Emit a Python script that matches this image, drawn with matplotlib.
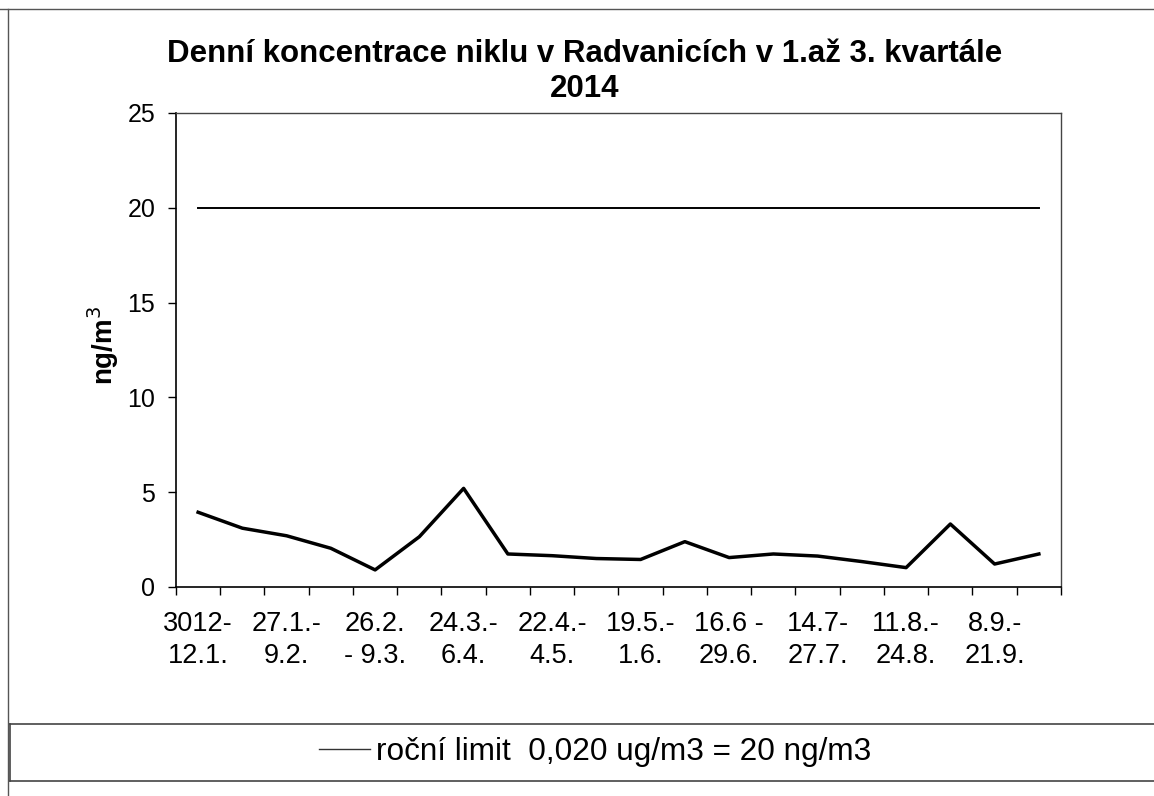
import numpy as np
import matplotlib
matplotlib.use("Agg")
import matplotlib.pyplot as plt
from matplotlib.lines import Line2D

plt.rcParams['font.family'] = ['Liberation Sans', 'DejaVu Sans']

# two-week periods, Jan - Sep 2014
periods = ["3012-\n12.1.", "", "27.1.-\n9.2.", "", "26.2.\n- 9.3.", "",
           "24.3.-\n6.4.", "", "22.4.-\n4.5.", "", "19.5.-\n1.6.", "",
           "16.6 -\n29.6.", "", "14.7-\n27.7.", "", "11.8.-\n24.8.", "",
           "8.9.-\n21.9.", ""]
nickel = [3.94, 3.1, 2.7, 2.04, 0.9, 2.65, 5.2, 1.74, 1.65, 1.5,
          1.45, 2.39, 1.55, 1.74, 1.63, 1.34, 1.02, 3.32, 1.21, 1.74]
limit = [20] * 20
limit_label = "roční limit  0,020 ug/m3 = 20 ng/m3"

fig = plt.figure(figsize=(11.54, 7.96), dpi=100)
ax = fig.add_axes([0.1525, 0.2626, 0.7669, 0.5955])

x = np.arange(len(nickel))
lim_line, = ax.plot(x, limit, color="black", lw=1.4)
ax.plot(x, nickel, color="black", lw=2.5)

ax.set_xlim(-0.5, len(nickel) - 0.5)
ax.set_ylim(0, 25)
ax.set_yticks([0, 5, 10, 15, 20, 25])
ax.set_xticks(x, periods)
ax.set_xticks(np.arange(-0.5, len(nickel)), minor=True)
for lab in ax.get_xticklabels():
    lab.set_linespacing(1.3)
ax.tick_params(axis="x", which="major", length=0, pad=17, labelsize=19.5)
ax.tick_params(axis="x", which="minor", length=6, width=1, direction="out")
ax.tick_params(axis="y", length=6, width=1, direction="out", labelsize=18, pad=9)
ax.set_ylabel("ng/m$^3$", fontsize=20, fontweight="bold")
ax.yaxis.set_label_coords(-0.062, 0.51)

for s in ["top", "right"]:
    ax.spines[s].set_color("#444444")
    ax.spines[s].set_linewidth(1.0)
for s in ["left", "bottom"]:
    ax.spines[s].set_linewidth(1.2)

fig.text(0.507, 0.91, "Denní koncentrace niklu v Radvanicích v 1.až 3. kvartále\n2014",
         ha="center", va="center", fontsize=22.5, fontweight="bold", linespacing=1.22)

# outer chart frame
fig.add_artist(Line2D([0, 1], [1 - 9 / 796] * 2, color="#555555", lw=1.0))
fig.add_artist(Line2D([8 / 1154] * 2, [0, 1 - 9 / 796], color="#555555", lw=1.0))

# legend box at the bottom
fig.add_artist(Line2D([10 / 1154, 1], [1 - 724 / 796] * 2, color="#444444", lw=1.2))
fig.add_artist(Line2D([10 / 1154, 1], [1 - 781 / 796] * 2, color="#444444", lw=1.2))
fig.add_artist(Line2D([10 / 1154] * 2, [1 - 781 / 796, 1 - 724 / 796], color="#444444", lw=1.2))
leg = fig.legend([lim_line], [limit_label], loc="center", bbox_to_anchor=(0.516, 1 - 752 / 796),
                 frameon=False, fontsize=22.7, handlelength=1.6, handletextpad=0.2)
for h in leg.get_lines():
    h.set_linewidth(1.0)
    h.set_color("#333333")

fig.savefig("out.png", dpi=100)
